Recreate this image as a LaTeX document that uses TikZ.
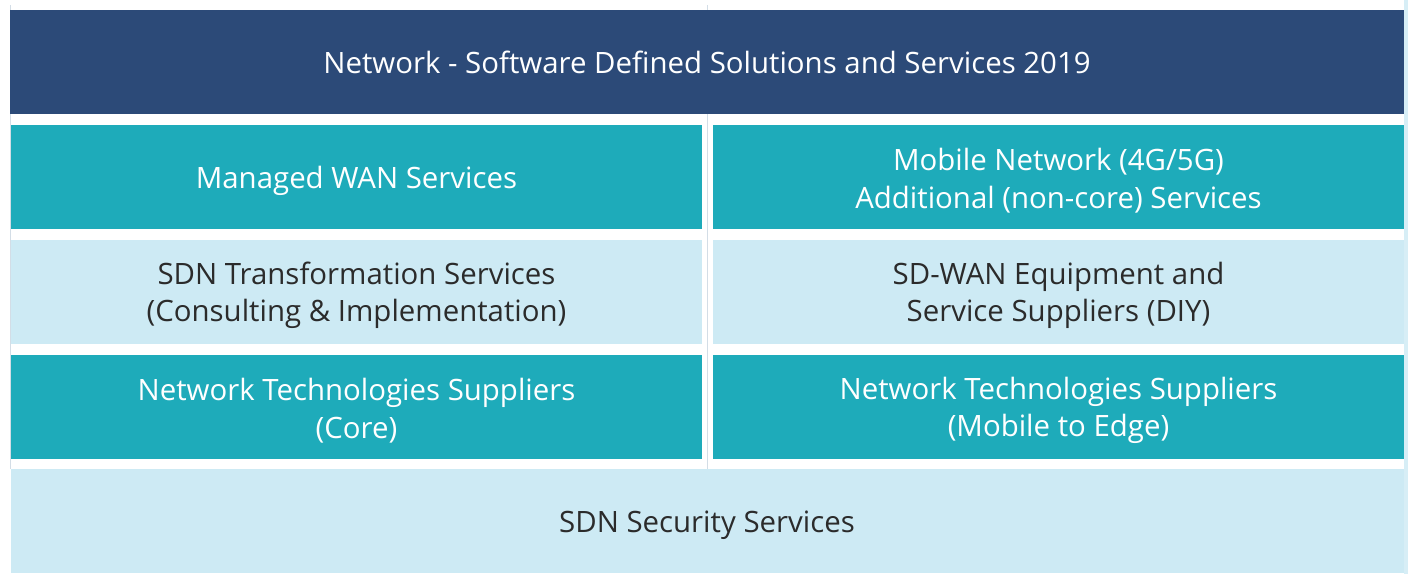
\documentclass[tikz,border=0pt]{standalone}
\usepackage{fontspec}
\setmainfont{Open Sans}
\definecolor{navy}{HTML}{2C4A78}
\definecolor{teal}{HTML}{1EABBA}
\definecolor{pale}{HTML}{CDEAF4}
\definecolor{ink}{HTML}{2B2B2B}
\definecolor{grid}{HTML}{D3DDE6}
\begin{document}
\begin{tikzpicture}[x=1pt,y=-1pt,
  cell/.style={inner sep=0pt,align=center,yshift=-3.5pt,font=\fontsize{29.4}{37.5}\selectfont},
  dark/.style={fill=navy,text=white},
  mid/.style={fill=teal,text=white},
  light/.style={fill=pale,text=ink}]
\useasboundingbox (0,0) rectangle (1408,574);
% faint table rules behind the cells
\draw[grid,line width=0.7pt] (10.5,5) -- (10.5,469);
\draw[grid,line width=0.7pt] (707.5,5) -- (707.5,469);
\fill[pale!80!white] (1404,0) rectangle (1408,574);
% header
\fill[dark] (10,10) rectangle (1404,114);
\node[cell,text=white,yshift=3.5pt] (title) at (707,62) {Network - Software Defined Solutions and Services 2019};
% row 1
\fill[mid] (11,125) rectangle (702,229);
\fill[mid] (713,125) rectangle (1404,229);
\node[cell,text=white] (wan) at (356.5,177) {Managed WAN Services};
\node[cell,text=white] (mob) at (1058.5,177) {Mobile Network (4G/5G)\\Additional (non-core) Services};
% row 2
\fill[light] (11,240) rectangle (702,344);
\fill[light] (713,240) rectangle (1404,344);
\node[cell,text=ink] (sdn) at (356.5,292) {SDN Transformation Services\\(Consulting \& Implementation)};
\node[cell,text=ink] (sdwan) at (1058.5,292) {SD-WAN Equipment and\\Service Suppliers (DIY)};
% row 3
\fill[mid] (11,355) rectangle (702,459);
\fill[mid] (713,355) rectangle (1404,459);
\node[cell,text=white] (core) at (356.5,407) {Network Technologies Suppliers\\(Core)};
\node[cell,text=white] (edge) at (1058.5,407) {Network Technologies Suppliers\\(Mobile to Edge)};
% footer
\fill[light] (11,469) rectangle (1404,573);
\node[cell,text=ink] (sec) at (707,522) {SDN Security Services};
\end{tikzpicture}
\end{document}
